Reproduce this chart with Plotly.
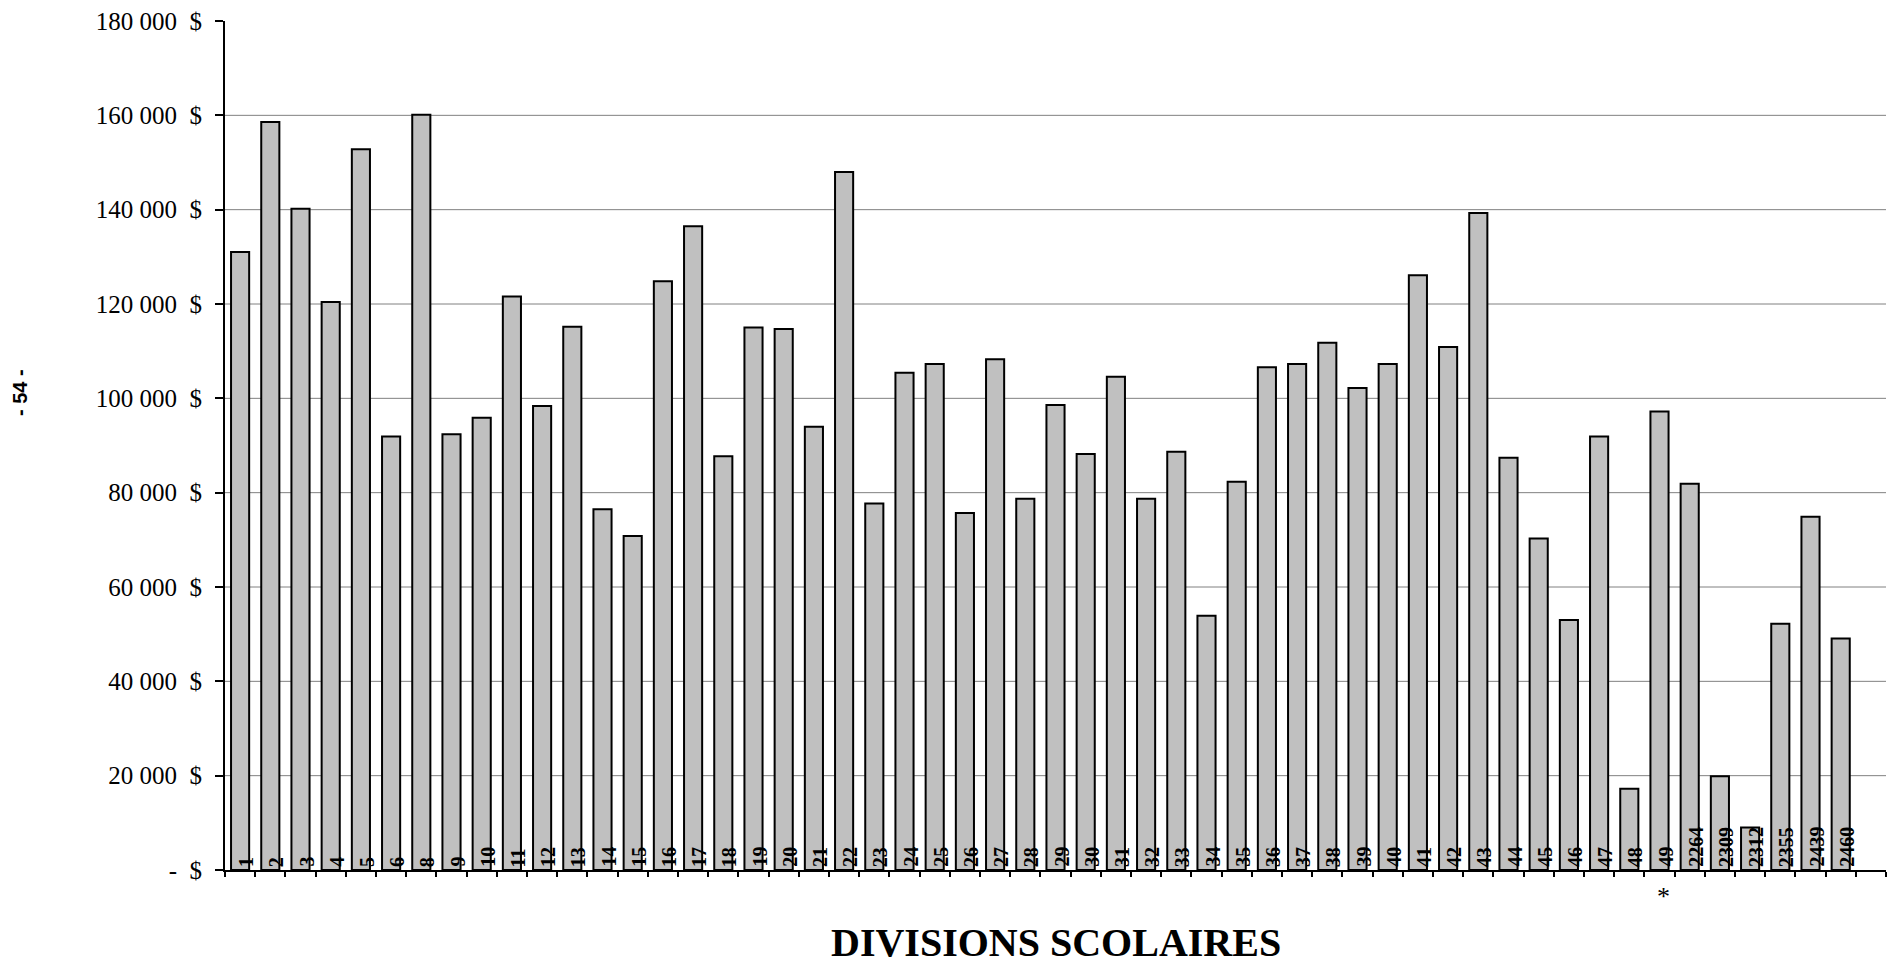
import plotly.graph_objects as go

# ---- data ----
divisions = ["1", "2", "3", "4", "5", "6", "8", "9", "10", "11", "12", "13", "14", "15",
             "16", "17", "18", "19", "20", "21", "22", "23", "24", "25", "26", "27", "28",
             "29", "30", "31", "32", "33", "34", "35", "36", "37", "38", "39", "40", "41",
             "42", "43", "44", "45", "46", "47", "48", "49", "2264", "2309", "2312", "2355",
             "2439", "2460"]
montants = [131000, 158600, 140200, 120400, 152800, 91900, 160100, 92400, 95900, 121600,
            98400, 115200, 76500, 70800, 124800, 136500, 87700, 115000, 114700, 94000,
            148000, 77700, 105400, 107300, 75700, 108300, 78700, 98600, 88200, 104600,
            78700, 88700, 53900, 82300, 106600, 107300, 111800, 102200, 107300, 126100,
            110900, 139300, 87400, 70300, 53000, 91900, 17200, 97200, 81900, 19900,
            9000, 52200, 74900, 49100]
y_ticks = [0, 20000, 40000, 60000, 80000, 100000, 120000, 140000, 160000, 180000]
y_tick_text = ["-\u00a0\u00a0$"] + [
    f"{v:,}".replace(",", "\u00a0") + "\u00a0\u00a0$" for v in y_ticks[1:]]
marked_division = "49"
x_title = "DIVISIONS SCOLAIRES"

positions = list(range(len(divisions)))
n_slots = len(divisions) + 1  # an empty slot after the last bar

FIG_W, FIG_H = 1892, 966
M_L, M_R, M_T, M_B = 225, 6, 21, 96

fig = go.Figure()
fig.add_trace(go.Bar(
    x=positions, y=montants,
    marker=dict(color="#C0C0C0", line=dict(color="black", width=2)),
    width=0.6, hoverinfo="x+y",
))

serif = "Liberation Serif, Times New Roman, serif"
plot_w = FIG_W - M_L - M_R
plot_h = FIG_H - M_T - M_B

annotations = []
for p, lab in zip(positions, divisions):
    annotations.append(dict(
        x=p, y=0, xref="x", yref="y", text=f"<b>{lab}</b>", showarrow=False,
        textangle=-90, xanchor="center", yanchor="bottom", xshift=6, yshift=1,
        font=dict(family=serif, size=20, color="black")))
annotations.append(dict(
    x=positions[divisions.index(marked_division)], y=0, xref="x", yref="y",
    text="*", showarrow=False, yanchor="top", yshift=-10, xshift=4,
    font=dict(family=serif, size=26, color="black")))
annotations.append(dict(
    x=(20 - M_L) / plot_w, y=1 - (393 - M_T) / plot_h,
    xref="paper", yref="paper", text="<b>- 54 -</b>", showarrow=False,
    textangle=-90, xanchor="center", yanchor="middle",
    font=dict(family="Liberation Sans, Arial, sans-serif", size=20, color="black")))
annotations.append(dict(
    x=0.5, y=1 - (942 - M_T) / plot_h, xref="paper", yref="paper",
    text=f"<b>{x_title}</b>", showarrow=False, xanchor="center", yanchor="middle",
    font=dict(family=serif, size=40, color="black")))

shapes = []
for v in y_ticks[1:-1]:
    shapes.append(dict(type="line", xref="paper", yref="y", x0=0, x1=1, y0=v, y1=v,
                       line=dict(color="#808080", width=1), layer="below"))

fig.update_layout(
    width=FIG_W, height=FIG_H,
    margin=dict(l=M_L, r=M_R, t=M_T, b=M_B, autoexpand=False),
    plot_bgcolor="white", paper_bgcolor="white",
    showlegend=False,
    font=dict(family=serif, color="black"),
    annotations=annotations,
    shapes=shapes,
    xaxis=dict(
        range=[-0.5, n_slots - 0.5],
        tickvals=[i - 0.5 for i in range(n_slots + 1)],
        showticklabels=False, ticks="outside", ticklen=5, tickwidth=2, tickcolor="black",
        showline=True, linecolor="black", linewidth=2, showgrid=False, zeroline=False,
    ),
    yaxis=dict(
        range=[0, 180000], tickvals=y_ticks, ticktext=y_tick_text,
        ticks="outside", ticklen=8, tickwidth=2, tickcolor="black",
        showline=True, linecolor="black", linewidth=2, showgrid=False, zeroline=False,
        tickfont=dict(family=serif, size=25, color="black"), ticklabelstandoff=8,
    ),
)

fig.write_html("out.html", config={"displayModeBar": False},
               post_script="document.body.style.margin='0';document.body.style.overflow='hidden';")
